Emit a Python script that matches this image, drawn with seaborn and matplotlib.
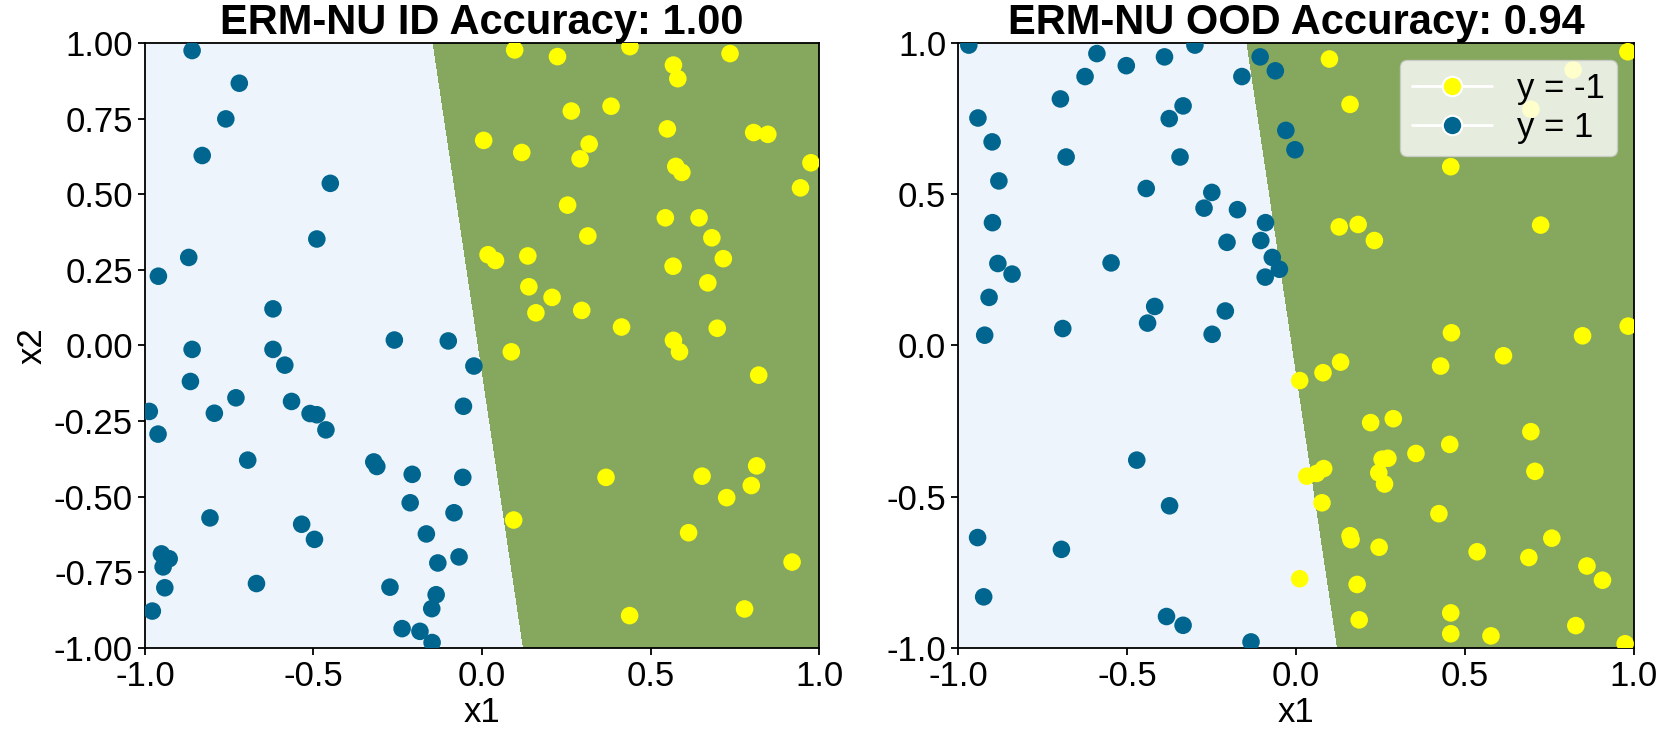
"""
ERM-NU decision regions on ID and OOD samples (linear classifier in 2D).
"""
import numpy as np
import pandas as pd
import matplotlib
matplotlib.use('Agg')
import matplotlib.pyplot as plt
from matplotlib.lines import Line2D
import seaborn as sns

# --- data ---
# ID samples, class y = 1 (blue)
id_pos_x1 = [-0.86, -0.72, -0.76, -0.83, -0.45, -0.49, -0.87, -0.96, -0.62, -0.26, -0.10,
             -0.86, -0.62, -0.585, -0.024, -0.865, -0.73, -0.987, -0.794, -0.565, -0.51,
             -0.49, -0.463, -0.055, -0.961, -0.695, -0.321, -0.312, -0.207, -0.057, -0.213,
             -0.083, -0.807, -0.535, -0.497, -0.165, -0.951, -0.928, -0.946, -0.131, -0.068,
             -0.941, -0.669, -0.273, -0.136, -0.149, -0.978, -0.237, -0.184, -0.148]
id_pos_x2 = [0.975, 0.867, 0.749, 0.628, 0.536, 0.352, 0.291, 0.229, 0.121, 0.018, 0.015,
             -0.013, -0.013, -0.065, -0.068, -0.119, -0.173, -0.218, -0.224, -0.185, -0.225,
             -0.229, -0.279, -0.201, -0.293, -0.379, -0.385, -0.400, -0.426, -0.436, -0.520,
             -0.553, -0.570, -0.591, -0.641, -0.623, -0.689, -0.705, -0.732, -0.719, -0.699,
             -0.801, -0.787, -0.799, -0.824, -0.870, -0.878, -0.936, -0.945, -0.982]
# ID samples, class y = -1 (yellow)
id_neg_x1 = [0.097, 0.224, 0.439, 0.736, 0.568, 0.581, 0.265, 0.383, 0.550, 0.806, 0.848,
             0.005, 0.118, 0.318, 0.291, 0.575, 0.593, 0.976, 0.945, 0.254, 0.544, 0.644,
             0.314, 0.682, 0.018, 0.040, 0.136, 0.716, 0.567, 0.139, 0.208, 0.160, 0.296,
             0.670, 0.414, 0.698, 0.568, 0.586, 0.087, 0.821, 0.368, 0.653, 0.815, 0.799,
             0.726, 0.094, 0.613, 0.920, 0.438, 0.779]
id_neg_x2 = [0.977, 0.955, 0.988, 0.965, 0.927, 0.882, 0.775, 0.791, 0.716, 0.704, 0.698,
             0.678, 0.638, 0.666, 0.617, 0.592, 0.572, 0.604, 0.521, 0.464, 0.422, 0.422,
             0.362, 0.356, 0.300, 0.281, 0.296, 0.287, 0.262, 0.194, 0.159, 0.108, 0.116,
             0.207, 0.061, 0.057, 0.017, -0.021, -0.021, -0.098, -0.436, -0.432, -0.398, -0.463,
             -0.503, -0.577, -0.619, -0.716, -0.893, -0.871]

# OOD samples, class y = 1 (blue)
ood_pos_x1 = [-0.968, -0.589, -0.502, -0.389, -0.299, -0.624, -0.106, -0.061, -0.160, -0.697,
              -0.941, -0.334, -0.375, -0.899, -0.680, -0.343, -0.030, -0.003, -0.879, -0.443,
              -0.249, -0.272, -0.173, -0.898, -0.090, -0.204, -0.104, -0.882, -0.840, -0.547,
              -0.070, -0.049, -0.091, -0.908, -0.418, -0.439, -0.209, -0.690, -0.921, -0.248,
              -0.471, -0.374, -0.942, -0.694, -0.924, -0.383, -0.334, -0.133]
ood_pos_x2 = [0.993, 0.965, 0.925, 0.954, 0.993, 0.889, 0.954, 0.908, 0.889, 0.815,
              0.752, 0.792, 0.750, 0.673, 0.623, 0.623, 0.711, 0.647, 0.544, 0.519,
              0.506, 0.454, 0.449, 0.406, 0.406, 0.341, 0.347, 0.271, 0.236, 0.273,
              0.291, 0.252, 0.226, 0.159, 0.129, 0.074, 0.114, 0.056, 0.034, 0.037,
              -0.379, -0.530, -0.635, -0.674, -0.831, -0.896, -0.925, -0.980]
# OOD samples, class y = -1 (yellow)
ood_neg_x1 = [0.099, 0.982, 0.820, 0.695, 0.160, 0.458, 0.128, 0.184, 0.232, 0.724, 0.460,
              0.848, 0.983, 0.614, 0.132, 0.080, 0.011, 0.428, 0.221, 0.288, 0.695, 0.455,
              0.355, 0.255, 0.272, 0.245, 0.262, 0.082, 0.061, 0.032, 0.707, 0.077, 0.423,
              0.160, 0.163, 0.246, 0.536, 0.689, 0.757, 0.861, 0.907, 0.011, 0.181, 0.458,
              0.187, 0.458, 0.577, 0.828, 0.974]
ood_neg_x2 = [0.947, 0.971, 0.911, 0.781, 0.797, 0.591, 0.392, 0.400, 0.347, 0.398, 0.042,
              0.032, 0.064, -0.034, -0.055, -0.090, -0.116, -0.068, -0.255, -0.242, -0.285, -0.327,
              -0.357, -0.376, -0.373, -0.421, -0.458, -0.407, -0.423, -0.432, -0.416, -0.520, -0.556,
              -0.629, -0.642, -0.667, -0.682, -0.701, -0.637, -0.729, -0.776, -0.771, -0.790, -0.884,
              -0.907, -0.953, -0.960, -0.926, -0.986]

# linear classifier: predict y = -1 where w1*x1 + w2*x2 + b > 0
W = [1.0, 0.134]
B = 0.011

titles = ['ERM-NU ID Accuracy: 1.00', 'ERM-NU OOD Accuracy: 0.94']

YELLOW = '#FFFF00'
BLUE = '#00668F'
LIGHT = '#EEF4FB'
GREEN = '#86A85E'


def make_df(pos_x1, pos_x2, neg_x1, neg_x2):
    pos = pd.DataFrame({'x1': pos_x1, 'x2': pos_x2, 'y': 1})
    neg = pd.DataFrame({'x1': neg_x1, 'x2': neg_x2, 'y': -1})
    return pd.concat([pos, neg], ignore_index=True)


frames = [make_df(id_pos_x1, id_pos_x2, id_neg_x1, id_neg_x2),
          make_df(ood_pos_x1, ood_pos_x2, ood_neg_x1, ood_neg_x2)]

sns.set_style('ticks')
plt.rcParams['font.family'] = ['Liberation Sans', 'DejaVu Sans']
plt.rcParams['axes.unicode_minus'] = False
for key in ['text.color', 'axes.labelcolor', 'xtick.color', 'ytick.color', 'axes.edgecolor']:
    plt.rcParams[key] = 'black'
plt.rcParams['xtick.labelsize'] = 25
plt.rcParams['ytick.labelsize'] = 25
plt.rcParams['xtick.major.size'] = 5
plt.rcParams['ytick.major.size'] = 5
plt.rcParams['xtick.major.width'] = 1.3
plt.rcParams['ytick.major.width'] = 1.3
plt.rcParams['axes.linewidth'] = 1.3

fig = plt.figure(figsize=(16.6, 7.36), dpi=100)
axes = [fig.add_axes([0.0873, 0.1196, 0.4061, 0.822]),
        fig.add_axes([0.5771, 0.1196, 0.4072, 0.822])]

gx, gy = np.meshgrid(np.linspace(-1, 1, 400), np.linspace(-1, 1, 400))
score = W[0] * gx + W[1] * gy + B

for i, (ax, df) in enumerate(zip(axes, frames)):
    # continuous score so the boundary is a clean straight line
    ax.contourf(gx, gy, score, levels=[score.min() - 1, 0, score.max() + 1],
                colors=[LIGHT, GREEN])
    sns.scatterplot(data=df, x='x1', y='x2', hue='y', palette={-1: YELLOW, 1: BLUE},
                    s=160, linewidth=0, legend=False, ax=ax, zorder=3)
    ax.set_xlim(-1, 1)
    ax.set_ylim(-1, 1)
    ax.set_xticks([-1.0, -0.5, 0.0, 0.5, 1.0])
    ax.set_title(titles[i], fontsize=30, fontweight='bold', pad=5)
    ax.set_xlabel('x1', fontsize=25, labelpad=2)

axes[0].set_yticks(np.arange(-1, 1.01, 0.25))
axes[0].set_yticklabels([f'{v:.2f}' for v in np.arange(-1, 1.01, 0.25)])
axes[0].set_ylabel('x2', fontsize=25)
axes[1].set_yticks([-1.0, -0.5, 0.0, 0.5, 1.0])
axes[1].set_ylabel('')

handles = [Line2D([0], [0], color='white', lw=2, marker='o', markersize=14,
                  markerfacecolor=YELLOW, markeredgecolor='white', markeredgewidth=1.5),
           Line2D([0], [0], color='white', lw=2, marker='o', markersize=14,
                  markerfacecolor=BLUE, markeredgecolor='white', markeredgewidth=1.5)]
axes[1].legend(handles, ['y = -1', 'y = 1'], loc='upper right', fontsize=25,
               framealpha=0.8, handlelength=2.3, labelspacing=0.15, borderpad=0.35,
               handletextpad=0.7)

fig.savefig('out.png', dpi=100)
